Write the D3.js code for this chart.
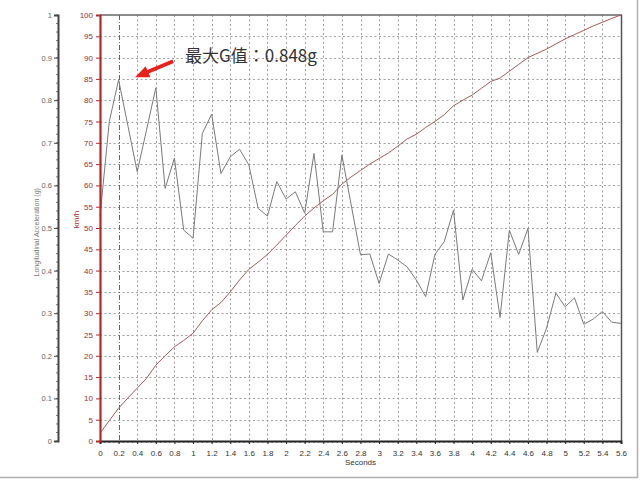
<!DOCTYPE html>
<html><head><meta charset="utf-8">
<script src="https://cdn.jsdelivr.net/npm/d3@7"></script>
<style>html,body{margin:0;padding:0;background:#fff;}svg{display:block;}</style>
</head><body>
<svg id="c" width="640" height="480"></svg>
<script>
const seconds = [0,0.1,0.2,0.3,0.4,0.5,0.6,0.7,0.8,0.9,1.0,1.1,1.2,1.3,1.4,1.5,1.6,1.7,1.8,1.9,2.0,2.1,2.2,2.3,2.4,2.5,2.6,2.7,2.8,2.9,3.0,3.1,3.2,3.3,3.4,3.5,3.6,3.7,3.8,3.9,4.0,4.1,4.2,4.3,4.4,4.5,4.6,4.7,4.8,4.9,5.0,5.1,5.2,5.3,5.4,5.5,5.6];
const accelG = [0.527,0.750,0.848,0.740,0.632,0.730,0.829,0.593,0.664,0.495,0.476,0.722,0.767,0.628,0.667,0.685,0.648,0.546,0.528,0.609,0.568,0.585,0.535,0.675,0.491,0.491,0.671,0.554,0.437,0.439,0.370,0.439,0.425,0.409,0.378,0.339,0.438,0.468,0.542,0.331,0.403,0.376,0.442,0.290,0.495,0.438,0.499,0.208,0.265,0.347,0.315,0.336,0.274,0.286,0.304,0.279,0.276];
const speedKmh = [1.8,4.8,7.7,10.1,12.4,14.7,17.8,20.0,22.1,23.6,25.3,28.2,30.8,32.5,35.0,37.8,40.3,42.0,43.8,46.0,48.3,50.6,52.8,54.7,56.4,57.9,60.3,62.0,63.5,65.0,66.3,67.6,69.2,70.9,72.0,73.6,75.0,76.6,78.7,80.0,81.2,82.8,84.4,85.2,86.8,88.4,90.0,91.0,92.0,93.2,94.4,95.4,96.4,97.4,98.3,99.2,100];
const xTicks = [0,0.2,0.4,0.6,0.8,1,1.2,1.4,1.6,1.8,2,2.2,2.4,2.6,2.8,3,3.2,3.4,3.6,3.8,4,4.2,4.4,4.6,4.8,5,5.2,5.4,5.6];
const gTicks = [0,0.1,0.2,0.3,0.4,0.5,0.6,0.7,0.8,0.9,1];
const kmhTicks = [0,5,10,15,20,25,30,35,40,45,50,55,60,65,70,75,80,85,90,95,100];
const maxG = 0.848, maxGTime = 0.2;
const annParts = ["最大G值", "：", "0.848g"];
const labels = {x:"Seconds", g:"Longitudinal Acceleration (g)", kmh:"km/h"};

const svg = d3.select("#c");
const L=100, R=621, T=15, B=441;
const x = d3.scaleLinear().domain([0,5.6]).range([L,R]);
const yS = d3.scaleLinear().domain([0,100]).range([B,T]);
const yG = d3.scaleLinear().domain([0,1]).range([B,T]);
const font = "'Liberation Sans', Arial, sans-serif";

// outer frame (right & bottom)
svg.append("line").attr("x1",0).attr("x2",638).attr("y1",477.5).attr("y2",477.5).attr("stroke","#b0b0b0").attr("stroke-width",1.5);
svg.append("line").attr("x1",637.5).attr("x2",637.5).attr("y1",0).attr("y2",478).attr("stroke","#b0b0b0").attr("stroke-width",1.5);

// grid
const grid = svg.append("g");
grid.selectAll("line.h").data(kmhTicks.filter(d=>d>0&&d<100)).enter().append("line")
  .attr("x1",L).attr("x2",R).attr("y1",d=>Math.round(yS(d))+0.5).attr("y2",d=>Math.round(yS(d))+0.5)
  .attr("stroke","#a0a0a0").attr("stroke-width",1).attr("stroke-dasharray","2,2.5");
grid.selectAll("line.v").data(xTicks.filter(d=>d>0.25&&d<5.55)).enter().append("line")
  .attr("x1",d=>Math.round(x(d))+0.5).attr("x2",d=>Math.round(x(d))+0.5).attr("y1",T).attr("y2",B)
  .attr("stroke","#a0a0a0").attr("stroke-width",1).attr("stroke-dasharray","2,2.5");
// max G marker (dash-dot)
svg.append("line").attr("x1",Math.round(x(maxGTime))+0.5).attr("x2",Math.round(x(maxGTime))+0.5).attr("y1",T).attr("y2",B)
  .attr("stroke","#666").attr("stroke-width",1).attr("stroke-dasharray","5,2,1,2");

// plot frame top & right
svg.append("line").attr("x1",L).attr("x2",R+1).attr("y1",T).attr("y2",T).attr("stroke","#666").attr("stroke-width",1.5);
svg.append("line").attr("x1",R+0.5).attr("x2",R+0.5).attr("y1",T).attr("y2",B).attr("stroke","#555").attr("stroke-width",1.5);

// lines
svg.append("path").datum(seconds.map((t,i)=>[t,speedKmh[i]]))
  .attr("d",d3.line().x(d=>x(d[0])).y(d=>yS(d[1])))
  .attr("fill","none").attr("stroke","#a85a5a").attr("stroke-width",1);
svg.append("path").datum(seconds.map((t,i)=>[t,accelG[i]]))
  .attr("d",d3.line().x(d=>x(d[0])).y(d=>yG(d[1])))
  .attr("fill","none").attr("stroke","#7a7a7a").attr("stroke-width",1);

// bottom axis
const xAxis = svg.append("g").attr("transform",`translate(0,${B})`)
  .call(d3.axisBottom(x).tickValues(xTicks).tickFormat(d3.format("~g")).tickSize(3).tickPadding(6));
xAxis.select(".domain").attr("stroke","#222").attr("stroke-width",2);
xAxis.selectAll(".tick line").attr("stroke","#222");
xAxis.selectAll("text").attr("font-family",font).attr("font-size",8).attr("fill","#333");
svg.append("g").selectAll("line").data(d3.range(0,113).map(i=>i*0.05)).enter().append("line")
  .attr("x1",d=>x(d)).attr("x2",d=>x(d)).attr("y1",B).attr("y2",B+2).attr("stroke","#333").attr("stroke-width",0.8);
svg.append("text").attr("x",x(2.8)).attr("y",465).attr("text-anchor","middle")
  .attr("font-family",font).attr("font-size",8).attr("fill","#333").text(labels.x);

// red km/h axis
const sAxis = svg.append("g").attr("transform",`translate(${L},0)`)
  .call(d3.axisLeft(yS).tickValues(kmhTicks).tickSize(4).tickPadding(3));
sAxis.select(".domain").attr("stroke","#b02a2a").attr("stroke-width",2.2);
sAxis.selectAll(".tick line").attr("stroke","#b02a2a");
sAxis.selectAll("text").attr("font-family",font).attr("font-size",8).attr("fill","#9a3030");
svg.append("text").attr("transform",`translate(79,${yS(52)}) rotate(-90)`).attr("text-anchor","middle")
  .attr("font-family",font).attr("font-size",8).attr("fill","#b02a2a").text(labels.kmh);

// gray g axis
const gAxis = svg.append("g").attr("transform","translate(58,0)")
  .call(d3.axisLeft(yG).tickValues(gTicks).tickFormat(d3.format("~g")).tickSize(4).tickPadding(2));
gAxis.select(".domain").attr("stroke","#444").attr("stroke-width",2);
gAxis.selectAll(".tick line").attr("stroke","#444");
gAxis.selectAll("text").attr("font-family",font).attr("font-size",7.5).attr("fill","#666");
svg.append("g").selectAll("line").data(d3.range(0,51).map(i=>i*0.02)).enter().append("line")
  .attr("x1",56).attr("x2",58).attr("y1",d=>yG(d)).attr("y2",d=>yG(d)).attr("stroke","#555").attr("stroke-width",0.8);
svg.append("text").attr("transform",`translate(38.5,${yG(0.49)}) rotate(-90)`).attr("text-anchor","middle")
  .attr("font-family",font).attr("font-size",7).attr("fill","#777").text(labels.g);

// annotation arrow
const tipX = x(maxGTime)+16.5, tipY = yG(maxG)-2.5;
const tailX = tipX+38, tailY = tipY-16;
const dx = tailX-tipX, dy = tailY-tipY, len = Math.hypot(dx,dy), ux=dx/len, uy=dy/len, px=-uy, py=ux;
const hl=14, hw=6, sw=1.9;
const bx=tipX+ux*hl, by=tipY+uy*hl;
const pts = [[tipX,tipY],[bx+px*hw,by+py*hw],[bx+px*sw,by+py*sw],[tailX+px*sw,tailY+py*sw],[tailX-px*sw,tailY-py*sw],[bx-px*sw,by-py*sw],[bx-px*hw,by-py*hw]];
svg.append("path").attr("d","M"+pts.map(p=>p.join(",")).join("L")+"Z").attr("fill","#e8211b");
const ann = svg.append("text").attr("x",tipX+50).attr("y",62).attr("font-family","'Noto Sans CJK SC', sans-serif")
  .attr("font-size",17).attr("fill","#333");
ann.append("tspan").text(annParts[0]);
ann.append("tspan").attr("font-family","'Noto Sans CJK TC', sans-serif").text(annParts[1]);
ann.append("tspan").text(annParts[2]);
</script>
</body></html>
